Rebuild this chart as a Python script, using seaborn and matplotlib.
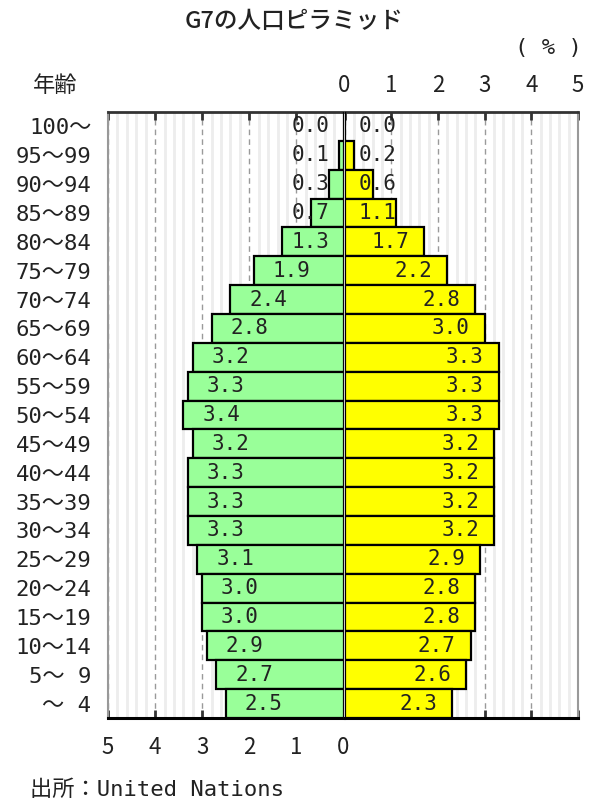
import matplotlib
matplotlib.use('Agg')
import matplotlib.pyplot as plt
import seaborn as sns
import pandas as pd
import numpy as np

ages = ['100～', '95～99', '90～94', '85～89', '80～84', '75～79', '70～74',
        '65～69', '60～64', '55～59', '50～54', '45～49', '40～44', '35～39',
        '30～34', '25～29', '20～24', '15～19', '10～14', '5～ 9', '～ 4']
male = [0.0, 0.1, 0.3, 0.7, 1.3, 1.9, 2.4, 2.8, 3.2, 3.3, 3.4, 3.2, 3.3, 3.3,
        3.3, 3.1, 3.0, 3.0, 2.9, 2.7, 2.5]
female = [0.0, 0.2, 0.6, 1.1, 1.7, 2.2, 2.8, 3.0, 3.3, 3.3, 3.3, 3.2, 3.2, 3.2,
          3.2, 2.9, 2.8, 2.8, 2.7, 2.6, 2.3]
ticks = [0, 1, 2, 3, 4, 5]

sns.set_style('white')
plt.rcParams['font.family'] = ['Noto Sans CJK JP', 'DejaVu Sans']
MONO = ['DejaVu Sans Mono', 'Noto Sans CJK JP']

W, H = 589, 807
fig = plt.figure(figsize=(W / 100, H / 100), dpi=100)

top_px, bot_px = 112, 718
axL = fig.add_axes([108 / W, 1 - bot_px / H, (343.5 - 108) / W, (bot_px - top_px) / H])
axR = fig.add_axes([344.5 / W, 1 - bot_px / H, (578 - 344.5) / W, (bot_px - top_px) / H])

dfm = pd.DataFrame({'age': ages, 'val': male})
dff = pd.DataFrame({'age': ages, 'val': female})

sns.barplot(data=dfm, x='val', y='age', order=ages, orient='h', color='#99FF99',
            saturation=1, width=1.0, edgecolor='black', linewidth=1.6, ax=axL, zorder=3)
sns.barplot(data=dff, x='val', y='age', order=ages, orient='h', color='#FFFF00',
            saturation=1, width=1.0, edgecolor='black', linewidth=1.6, ax=axR, zorder=3)

for ax in (axL, axR):
    ax.set_xlim(0, 5)
    ax.set_ylim(len(ages) - 0.5, -0.5)
    ax.set_xlabel('')
    ax.set_ylabel('')
    ax.set_xticks(ticks)
    ax.set_xticks(np.arange(0, 5.01, 0.2), minor=True)
    ax.set_axisbelow(True)
    ax.grid(which='minor', axis='x', color='#ededed', linewidth=2, zorder=0)
    ax.grid(which='major', axis='x', color='#9a9a9a', linestyle=(0, (4, 3)), linewidth=1, zorder=1)
    ax.grid(which='major', axis='y', visible=False)
    ax.tick_params(axis='x', which='major', direction='in', length=6, width=2,
                   colors='#333333', top=True, bottom=True, labelsize=16, labelcolor='#222222')
    ax.tick_params(axis='x', which='minor', length=0)
    ax.spines['top'].set_color('#333333')
    ax.spines['top'].set_linewidth(2)
    ax.spines['bottom'].set_color('black')
    ax.spines['bottom'].set_linewidth(2.2)

axL.invert_xaxis()
axL.tick_params(axis='x', labelbottom=True, labeltop=False, pad=13)
axL.tick_params(axis='y', length=0, labelsize=16, pad=12, labelcolor='#222222')
for t in axL.get_yticklabels():
    t.set_fontfamily(MONO)
axL.spines['left'].set_color('#999999')
axL.spines['left'].set_linewidth(1.5)
axL.spines['right'].set_color('#c8c8c8')
axL.spines['right'].set_linewidth(1.5)

axR.tick_params(axis='x', labelbottom=False, labeltop=True, pad=11)
axR.tick_params(axis='y', length=0, labelleft=False)
axR.spines['left'].set_color('#c8c8c8')
axR.spines['left'].set_linewidth(1.5)
axR.spines['right'].set_color('#999999')
axR.spines['right'].set_linewidth(1.5)

lab_font = dict(family=MONO, fontsize=15, color='#222222', va='center', zorder=5)
for i, v in enumerate(male):
    axL.text(max(v - 0.4, 1.1), i, f'{v:.1f}', ha='left', **lab_font)
for i, v in enumerate(female):
    axR.text(max(v - 0.32, 1.12), i, f'{v:.1f}', ha='right', **lab_font)

fig.text(0.5, 1 - 22 / H, 'G7の人口ピラミッド', ha='center', va='center',
         fontsize=17, fontweight='medium', color='#222222')
fig.text(548 / W, 1 - 48 / H, '( % )', ha='center', va='center', fontsize=16,
         family=MONO, color='#222222')
fig.text(55 / W, 1 - 85 / H, '年齢', ha='center', va='center', fontsize=16, color='#222222')
fig.text(30 / W, 1 - 790 / H, '出所：United Nations', ha='left', va='center', fontsize=16,
         family=MONO, color='#222222')

fig.savefig('out.png', dpi=100)
